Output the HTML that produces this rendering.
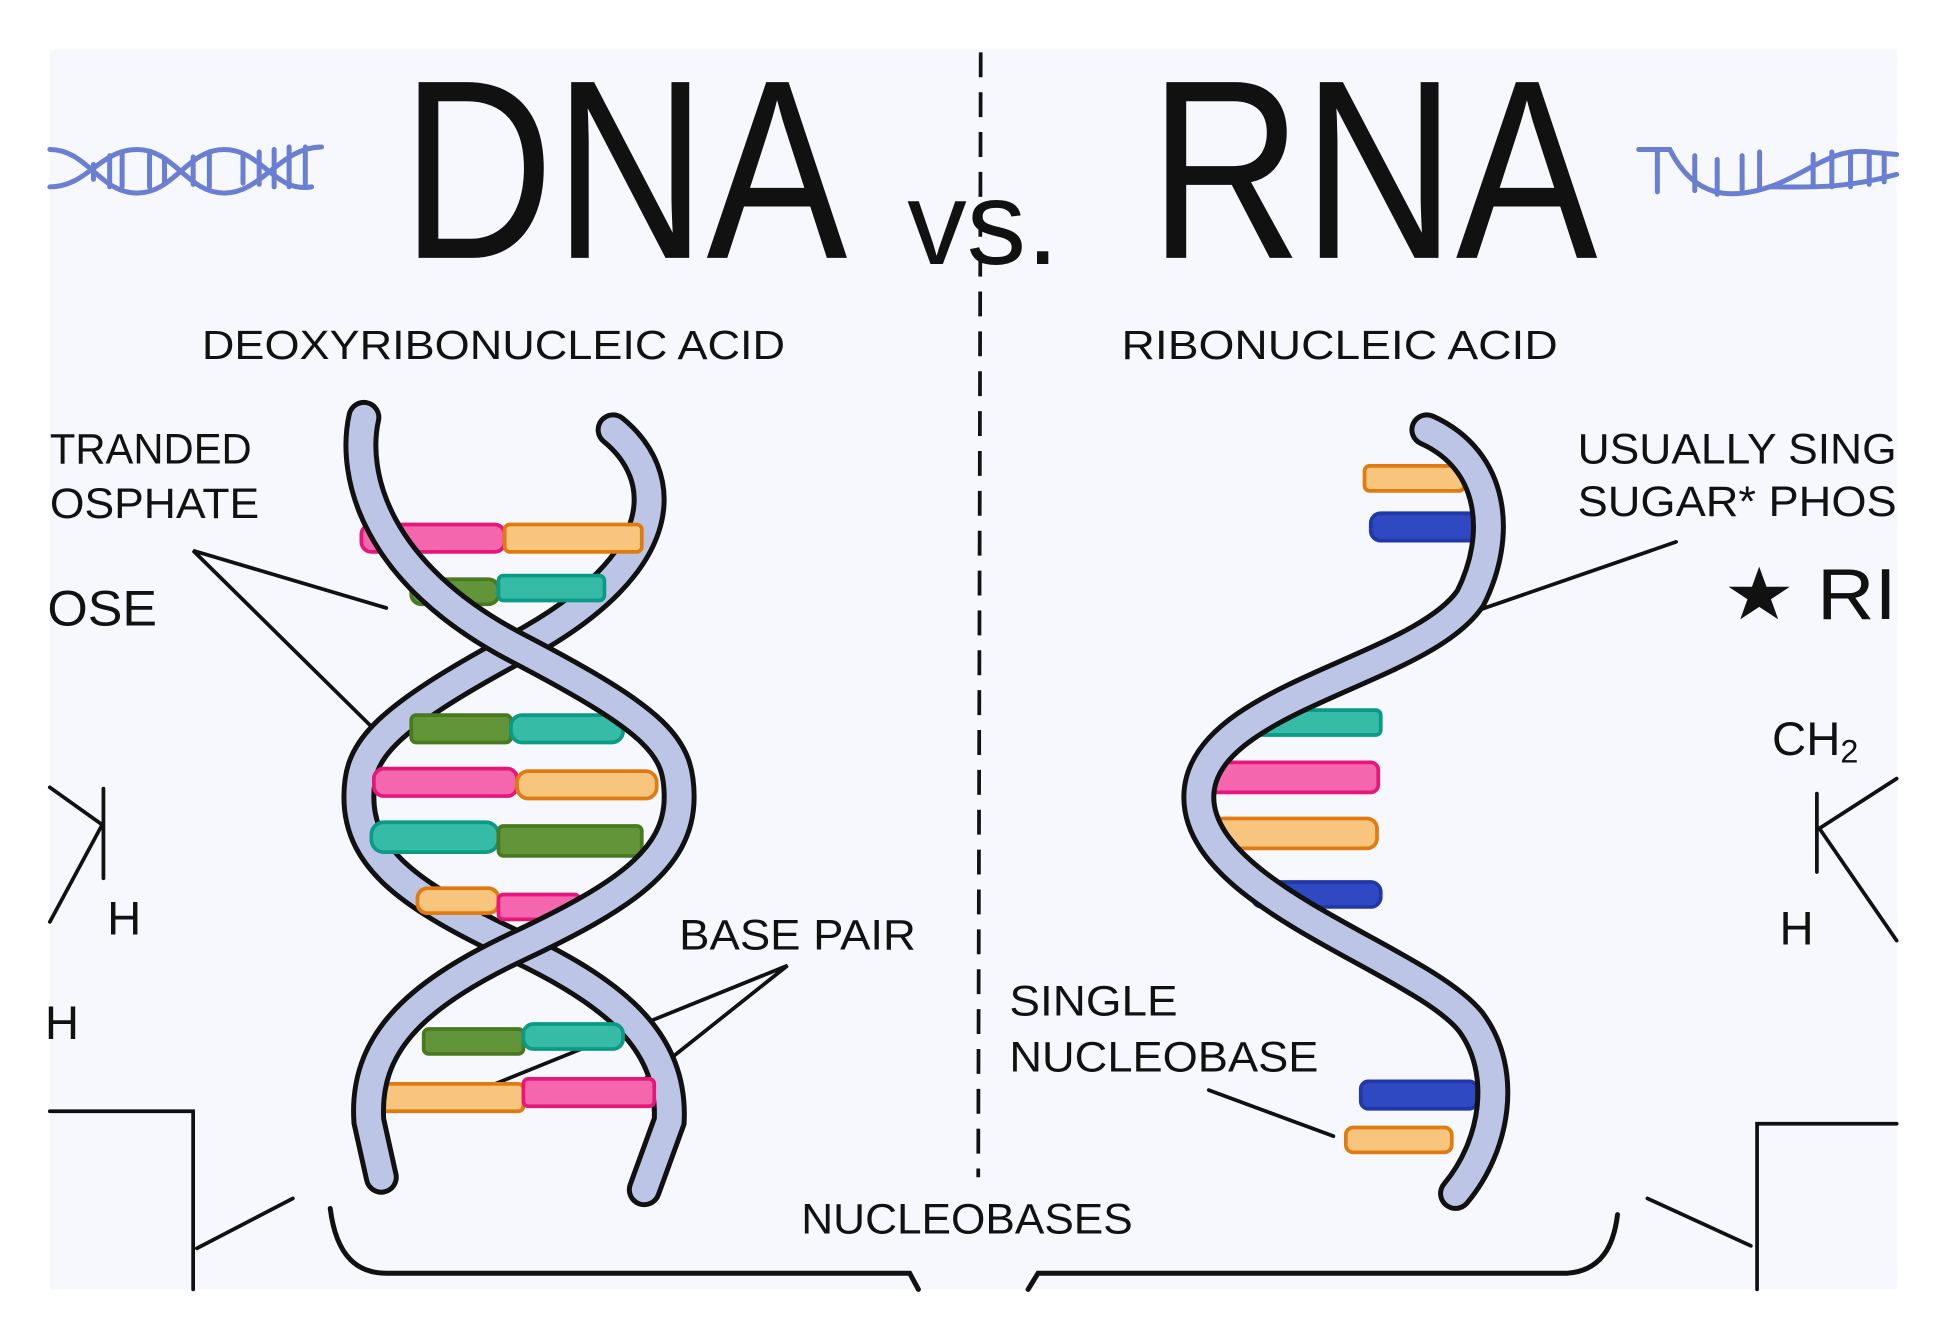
<!DOCTYPE html>
<html><head><meta charset="utf-8"><style>
html,body{margin:0;padding:0;background:#fff;}
svg{display:block;}
text{font-family:"Liberation Sans",sans-serif;fill:#111;}
</style></head><body>
<svg width="1944" height="1333" viewBox="0 0 1560 1070" preserveAspectRatio="none">
<rect x="0" y="0" width="1560" height="1070" fill="#fff"/>
<rect x="40" y="40" width="1482" height="995" fill="#f6f8fd"/>
<line x1="787" y1="42" x2="785" y2="945" stroke="#111" stroke-width="3" stroke-dasharray="20 12"/>

<g stroke="#6a7fd2" stroke-width="4" fill="none" stroke-linecap="round">
<path d="M40,120 C70,120 80,155 110,155 C140,155 150,120 180,120 C210,120 220,155 250,150"/>
<path d="M40,150 C70,150 80,120 110,120 C140,120 150,155 180,155 C210,155 225,118 258,118"/>
<path d="M75,132v12M88,125v25M98,122v28M120,124v26M132,128v18M155,126v22M168,122v28M195,125v22M208,122v26M220,120v30M232,118v32M245,118v30"/>
<path d="M1315,120 L1340,120 C1360,160 1390,160 1420,150 C1450,140 1470,118 1500,122 L1522,124"/>
<path d="M1420,150 C1450,150 1480,152 1522,140"/>
<path d="M1330,122v32M1360,125v28M1378,128v28M1398,125v30M1412,122v30M1455,124v25M1470,122v28M1485,122v28M1500,122v26M1512,124v22"/>
</g>

<g>
<text x="322" y="207" font-size="205" textLength="358" lengthAdjust="spacingAndGlyphs">DNA</text>
<text x="728" y="212" font-size="95" textLength="122" lengthAdjust="spacingAndGlyphs">vs.</text>
<text x="922" y="207" font-size="205" textLength="360" lengthAdjust="spacingAndGlyphs">RNA</text>
</g>

<text x="162" y="288" font-size="33" textLength="468" lengthAdjust="spacingAndGlyphs">DEOXYRIBONUCLEIC ACID</text>
<text x="900" y="288" font-size="33" textLength="350" lengthAdjust="spacingAndGlyphs">RIBONUCLEIC ACID</text>
<g font-size="34">
<text x="40" y="372" textLength="162" lengthAdjust="spacingAndGlyphs">TRANDED</text>
<text x="40" y="416" textLength="168" lengthAdjust="spacingAndGlyphs">OSPHATE</text>
<text x="38" y="502" font-size="40" textLength="88" lengthAdjust="spacingAndGlyphs">OSE</text>
<text x="1266" y="372" textLength="256" lengthAdjust="spacingAndGlyphs">USUALLY SING</text>
<text x="1266" y="414" textLength="256" lengthAdjust="spacingAndGlyphs">SUGAR* PHOS</text>
<text x="1383" y="497" font-size="58" textLength="139" lengthAdjust="spacingAndGlyphs">★ RI</text>
<text x="1422" y="606" font-size="38">CH<tspan font-size="26" dy="6">2</tspan></text>
<text x="1428" y="758" font-size="38">H</text>
<text x="86" y="750" font-size="38">H</text>
<text x="36" y="834" font-size="38">H</text>
<text x="545" y="762" textLength="190" lengthAdjust="spacingAndGlyphs">BASE PAIR</text>
<text x="810" y="815" textLength="135" lengthAdjust="spacingAndGlyphs">SINGLE</text>
<text x="810" y="860" textLength="248" lengthAdjust="spacingAndGlyphs">NUCLEOBASE</text>
<text x="643" y="990" textLength="266" lengthAdjust="spacingAndGlyphs">NUCLEOBASES</text>
</g>

<g stroke="#111" stroke-width="3" fill="none" stroke-linecap="round">
<path d="M310,488 L155,442 L310,595"/>
<path d="M1345,435 L1180,492"/>
<path d="M385,875 L632,775 L500,880"/>
<path d="M970,875 L1070,912"/>
<path d="M40,632 L82,662 L40,740 M83,633 L83,705"/>
<path d="M40,892 L155,892 L155,1035 M158,1002 L235,962"/>
<path d="M1522,625 L1460,665 L1522,755 M1458,637 L1458,700"/>
<path d="M1522,902 L1410,902 L1410,1035 M1322,962 L1405,1000"/>
<path d="M265,970 C270,1010 288,1022 310,1022 L730,1022 L737,1035" stroke-width="4"/>
<path d="M825,1035 L833,1022 L1258,1022 C1285,1020 1295,1000 1298,975" stroke-width="4"/>
</g>

<g fill="none" stroke-linecap="round">
<path d="M492,345 C535,380 545,450 415,520 C300,582 288,605 288,640 C288,690 330,720 415,760 C500,800 540,840 537,900 L517,955" stroke="#111" stroke-width="28"/>
<path d="M492,345 C535,380 545,450 415,520 C300,582 288,605 288,640 C288,690 330,720 415,760 C500,800 540,840 537,900 L517,955" stroke="#bcc5e6" stroke-width="20"/>
</g>

<g stroke-width="3" stroke-linecap="round">
<rect x="290" y="421" width="115" height="22" rx="8" fill="#f466ad" stroke="#e5187a"/>
<rect x="405" y="421" width="110" height="22" rx="4" fill="#f8c57f" stroke="#e07b10"/>
<rect x="330" y="465" width="70" height="20" rx="8" fill="#62943a" stroke="#4a7a20"/>
<rect x="400" y="462" width="85" height="20" rx="4" fill="#36bca6" stroke="#0b9a86"/>
<rect x="330" y="574" width="80" height="22" rx="4" fill="#62943a" stroke="#4a7a20"/>
<rect x="410" y="574" width="90" height="22" rx="9" fill="#36bca6" stroke="#0b9a86"/>
<rect x="300" y="617" width="115" height="22" rx="8" fill="#f466ad" stroke="#e5187a"/>
<rect x="415" y="619" width="112" height="22" rx="9" fill="#f8c57f" stroke="#e07b10"/>
<rect x="298" y="660" width="102" height="24" rx="10" fill="#36bca6" stroke="#0b9a86"/>
<rect x="400" y="663" width="115" height="24" rx="4" fill="#62943a" stroke="#4a7a20"/>
<rect x="335" y="713" width="65" height="20" rx="8" fill="#f8c57f" stroke="#e07b10"/>
<rect x="400" y="718" width="65" height="20" rx="4" fill="#f466ad" stroke="#e5187a"/>
<rect x="340" y="826" width="80" height="20" rx="4" fill="#62943a" stroke="#4a7a20"/>
<rect x="420" y="822" width="80" height="20" rx="8" fill="#36bca6" stroke="#0b9a86"/>
<rect x="300" y="870" width="120" height="22" rx="4" fill="#f8c57f" stroke="#e07b10"/>
<rect x="420" y="866" width="105" height="22" rx="4" fill="#f466ad" stroke="#e5187a"/>
</g>

<g fill="none" stroke-linecap="round">
<path d="M292,335 C282,380 300,460 415,520 C530,580 545,600 545,640 C545,690 500,720 415,760 C330,800 292,840 296,900 L306,945" stroke="#111" stroke-width="28"/>
<path d="M292,335 C282,380 300,460 415,520 C530,580 545,600 545,640 C545,690 500,720 415,760 C330,800 292,840 296,900 L306,945" stroke="#bcc5e6" stroke-width="20"/>
</g>

<g stroke-width="3">
<rect x="1095" y="374" width="80" height="20" rx="4" fill="#f8c57f" stroke="#e07b10"/>
<rect x="1100" y="412" width="90" height="22" rx="8" fill="#2f49c2" stroke="#2238a8"/>
<rect x="1000" y="570" width="108" height="20" rx="4" fill="#36bca6" stroke="#0b9a86"/>
<rect x="970" y="612" width="136" height="24" rx="6" fill="#f466ad" stroke="#e5187a"/>
<rect x="970" y="657" width="135" height="24" rx="8" fill="#f8c57f" stroke="#e07b10"/>
<rect x="1005" y="708" width="103" height="20" rx="8" fill="#2f49c2" stroke="#2238a8"/>
<rect x="1092" y="868" width="93" height="22" rx="6" fill="#2f49c2" stroke="#2238a8"/>
<rect x="1080" y="905" width="85" height="20" rx="6" fill="#f8c57f" stroke="#e07b10"/>
</g>

<g fill="none" stroke-linecap="round">
<path d="M1145,345 C1200,370 1205,430 1180,480 C1140,540 962,560 962,640 C962,720 1140,770 1180,820 C1210,860 1200,920 1168,958" stroke="#111" stroke-width="28"/>
<path d="M1145,345 C1200,370 1205,430 1180,480 C1140,540 962,560 962,640 C962,720 1140,770 1180,820 C1210,860 1200,920 1168,958" stroke="#bcc5e6" stroke-width="20"/>
</g>
</svg>
</body></html>
